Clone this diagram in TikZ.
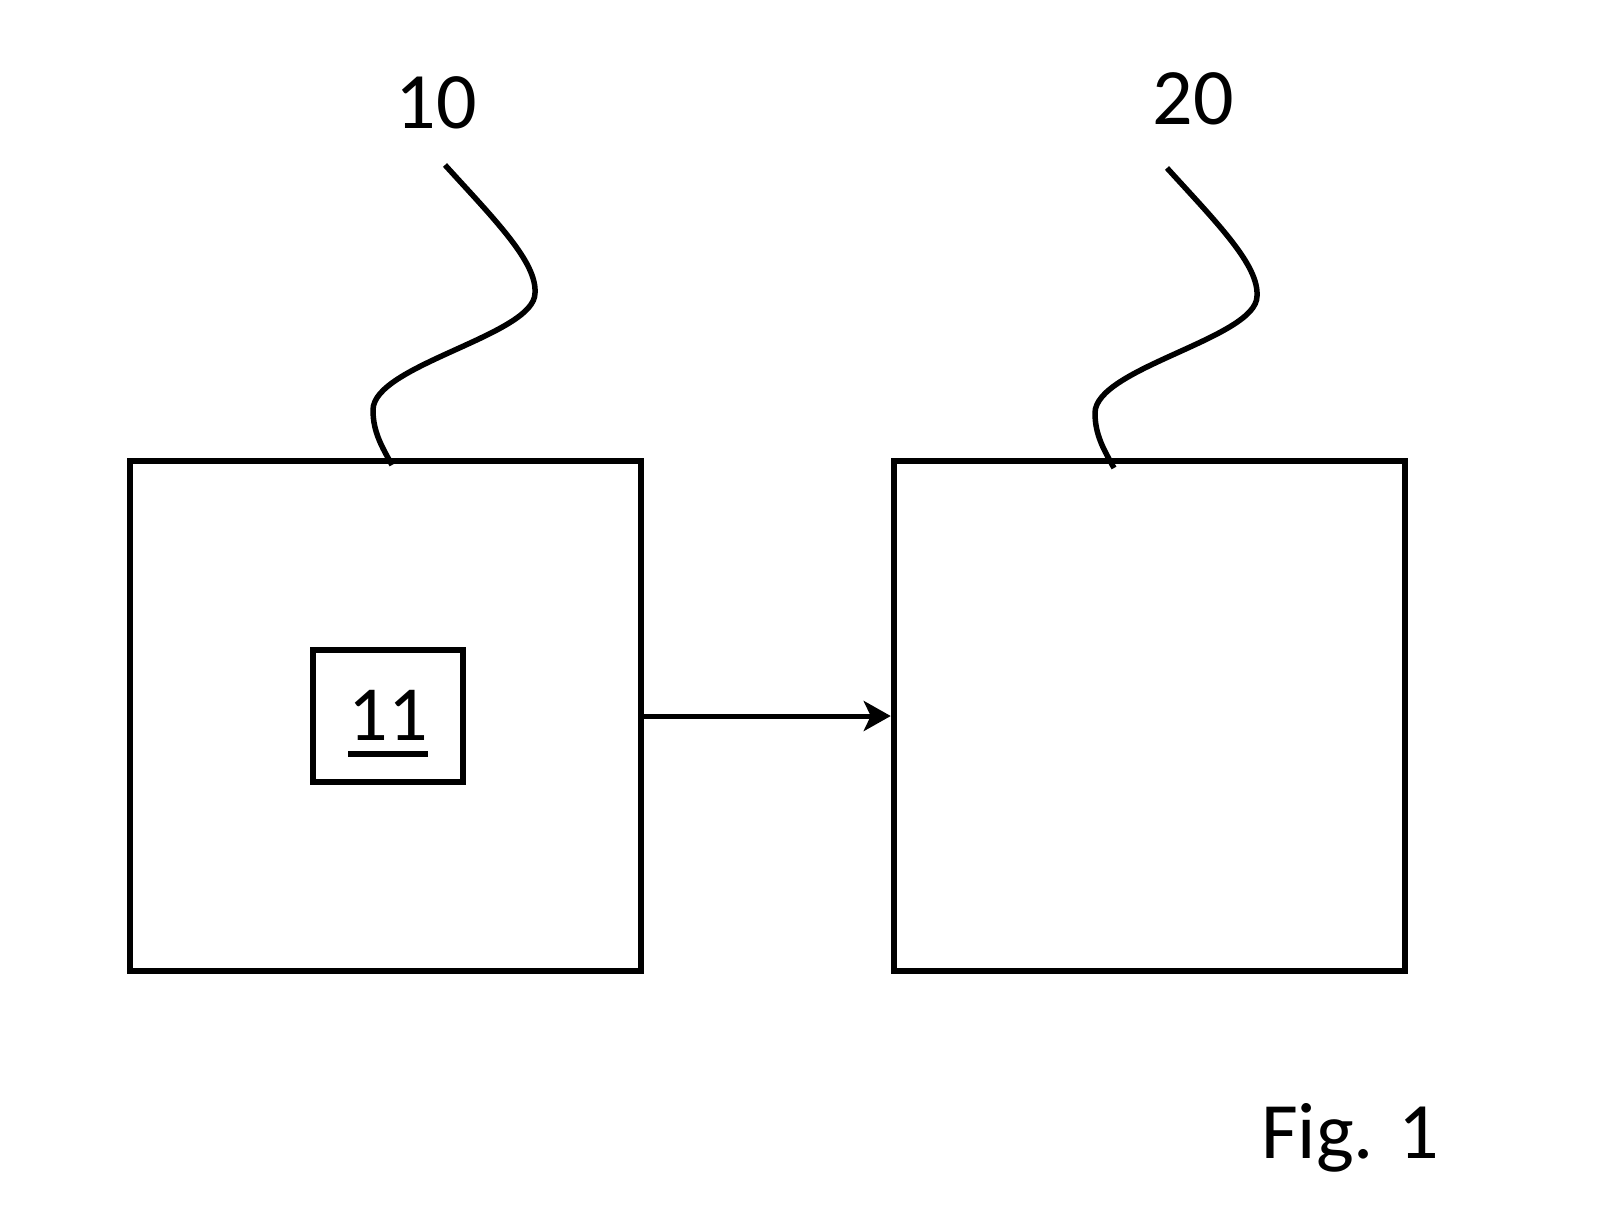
\documentclass[tikz,border=0pt]{standalone}
\usepackage{fontspec}
\setmainfont{Carlito}
\usepackage{tikz}
\usetikzlibrary{arrows.meta,positioning,calc}

% underlined reference number
\newcommand{\ulnum}[1]{\vtop{\hbox{#1}\kern11pt\hrule height 5.5pt}}

\begin{document}
\begin{tikzpicture}[
    x=1pt, y=-1pt,
    big_box/.style={draw, line width=6.5pt, minimum width=511pt, minimum height=510pt, inner sep=0pt},
    small_box/.style={draw, line width=6pt, minimum width=150pt, minimum height=132pt, inner sep=0pt},
    ref_label/.style={anchor=base, inner sep=0pt, font=\fontsize{80}{90}\selectfont},
    lead_line/.style={line width=5.5pt},
    flow_edge/.style={-{Stealth[length=27pt, width=30pt, inset=7pt]}, line width=5pt},
    leader/.pic={
        \draw[lead_line] (0,0) .. controls (50,55) and (92,97) .. (90,128)
            .. controls (90,170) and (-72,200) .. (-72,245)
            .. controls (-72,267) and (-63,282) .. (-53,300);
    }
]
    \useasboundingbox (0,0) rectangle (1614,1227);

    % --- Boxes ---
    \node[big_box] (b10) at (385.5,716) {};
    \node[big_box] (b20) at (1149.5,716) {};
    \node[small_box] (b11) at (388,716) {};
    \node[ref_label, font=\fontsize{78}{86}\selectfont] (t11) at (388,740) {\ulnum{11}};

    % --- Reference numbers ---
    \node[ref_label] (t10) at (436,128) {10};
    \node[ref_label] (t20) at (1193,124) {20};
    \node[ref_label] (fig) at (1350,1158) {Fig. 1};

    % --- Leader lines ---
    \coordinate (lead10) at (445,165);
    \coordinate (lead20) at (1167,168);
    \pic at (lead10) {leader};
    \pic at (lead20) {leader};

    % --- Signal ---
    \draw[flow_edge] (b10.east) -- (b20.west);

\end{tikzpicture}
\end{document}
